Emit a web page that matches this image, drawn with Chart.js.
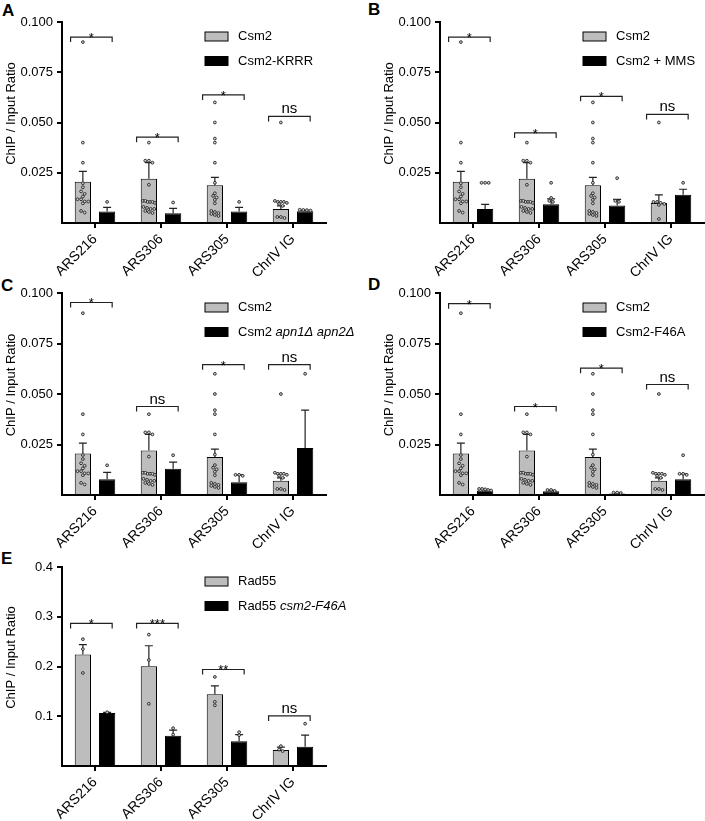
<!DOCTYPE html>
<html>
<head>
<meta charset="utf-8">
<script src="https://cdn.jsdelivr.net/npm/chart.js@4.4.0/dist/chart.umd.min.js"></script>
<style>
  body { margin: 0; background: #fff; width: 705px; height: 821px; position: relative; overflow: hidden; font-family: 'Liberation Sans', Arial, sans-serif; }
  canvas { position: absolute; }
  .lt { position: absolute; font-weight: bold; font-size: 17px; line-height: 17px; }
</style>
</head>
<body>
<div class="lt" style="left:2px;top:2px">A</div>
<div class="lt" style="left:368px;top:1px">B</div>
<div class="lt" style="left:1px;top:277px">C</div>
<div class="lt" style="left:368px;top:276px">D</div>
<div class="lt" style="left:1px;top:550px">E</div>
<canvas id="cA" width="370" height="290" style="left:0;top:0"></canvas>
<canvas id="cB" width="327" height="290" style="left:378px;top:0"></canvas>
<canvas id="cC" width="370" height="290" style="left:0;top:271px"></canvas>
<canvas id="cD" width="327" height="290" style="left:378px;top:271px"></canvas>
<canvas id="cE" width="370" height="290" style="left:0;top:545px"></canvas>
<script>
const categories = ['ARS216', 'ARS306', 'ARS305', 'ChrIV IG'];

// Csm2 (gray) - same control in A, C, D
const csm2Mean = [0.0205, 0.022, 0.0188, 0.007];
const csm2Sem = [0.0052, 0.008, 0.0039, 0.0015];
const csm2Points = [
  [0.09, 0.04, 0.03, 0.0198, 0.0178, 0.0157, 0.0145, 0.0132, 0.0118, 0.0118, 0.0107, 0.0107, 0.0098, 0.006, 0.0052],
  [0.04, 0.031, 0.030, 0.031, 0.019, 0.011, 0.0105, 0.0105, 0.010, 0.0105, 0.011, 0.008, 0.0075, 0.007, 0.007, 0.006, 0.0055, 0.005],
  [0.06, 0.05, 0.042, 0.04, 0.03, 0.02, 0.0148, 0.0135, 0.0127, 0.0115, 0.0098, 0.006, 0.0055, 0.005, 0.0045, 0.004, 0.0035],
  [0.05, 0.0105, 0.0105, 0.011, 0.01, 0.0095, 0.0105, 0.0085, 0.003, 0.0025, 0.003]
];
// Csm2 in B (ChrIV IG differs)
const csm2MeanB = [0.0205, 0.022, 0.0188, 0.010];
const csm2SemB = [0.0052, 0.008, 0.0039, 0.004];
const csm2PointsB = [csm2Points[0], csm2Points[1], csm2Points[2],
  [0.05, 0.0105, 0.0105, 0.01, 0.0095, 0.009, 0.002]];

// A: Csm2-KRRR
const krrrMean = [0.0057, 0.0048, 0.0057, 0.0058];
const krrrSem = [0.0021, 0.0025, 0.0021, 0.0005];
const krrrPoints = [[0.0105], [0.0102], [0.0105], [0.0066, 0.0064, 0.0062, 0.0065]];

// B: Csm2 + MMS
const mmsMean = [0.007, 0.0093, 0.0087, 0.014];
const mmsSem = [0.0023, 0.0027, 0.0031, 0.0028];
const mmsPoints = [[0.02, 0.02, 0.02], [0.02, 0.0125, 0.011, 0.0105], [0.0223, 0.011, 0.0105], [0.02]];

// C: Csm2 apn1 apn2
const apnMean = [0.0078, 0.013, 0.0063, 0.0233];
const apnSem = [0.0034, 0.0033, 0.0037, 0.0187];
const apnPoints = [[0.0147], [0.0197], [0.010, 0.010, 0.0095], [0.06]];

// D: Csm2-F46A
const f46aMean = [0.0022, 0.0018, 0.0008, 0.0078];
const f46aSem = [0.0005, 0.0005, 0.0003, 0.0027];
const f46aPoints = [[0.003, 0.0028, 0.0025, 0.003, 0.0022], [0.0025, 0.0025, 0.002], [0.0012, 0.0012, 0.001], [0.0197, 0.0105, 0.0105, 0.01]];

// E: Rad55
const rad55Mean = [0.224, 0.2007, 0.144, 0.032];
const rad55Sem = [0.020, 0.041, 0.017, 0.006];
const rad55Points = [[0.255, 0.235, 0.187], [0.264, 0.213, 0.125], [0.179, 0.129, 0.122], [0.04, 0.033, 0.03]];
const rad55f46aMean = [0.1067, 0.0607, 0.05, 0.0387];
const rad55f46aSem = [0.001, 0.0113, 0.013, 0.0233];
const rad55f46aPoints = [[0.108], [0.076, 0.063], [0.068, 0.062], [0.085]];

// significance brackets
const bracketA = [0.0925, 0.0427, 0.0637, 0.053];
const bracketB = [0.0925, 0.0448, 0.063, 0.054];
const bracketC = [0.0953, 0.0438, 0.0645, 0.0645];
const bracketD = [0.0947, 0.0438, 0.0628, 0.0547];
const bracketE = [0.2866, 0.2866, 0.194, 0.1006];
const sigA = ['*', '*', '*', 'ns'];
const sigB = ['*', '*', '*', 'ns'];
const sigC = ['*', 'ns', '*', 'ns'];
const sigD = ['*', '*', '*', 'ns'];
const sigE = ['*', '***', '**', 'ns'];

const FONT = "'Liberation Sans', Arial, sans-serif";

function swarm(vals, yScale) {
  const px = vals.map(v => yScale.getPixelForValue(v));
  const order = px.map((p, k) => k).sort((a, b) => px[a] - px[b]);
  const off = [];
  let group = [];
  const flush = () => {
    const n = group.length;
    const gap = n > 1 ? Math.min(3.6, 12 / (n - 1)) : 0;
    group.forEach((k, j) => off[k] = (j - (n - 1) / 2) * gap);
    group = [];
  };
  order.forEach(k => {
    if (group.length && px[k] - px[group[0]] > 2.5) flush();
    group.push(k);
  });
  flush();
  return px.map((p, k) => [off[k], p]);
}

const extras = {
  id: 'extras',
  afterDatasetsDraw(chart, args, o) {
    const ctx = chart.ctx, y = chart.scales.y, x = chart.scales.x, area = chart.chartArea;
    ctx.save();
    // error bars
    o.sem.forEach((s, d) => {
      chart.getDatasetMeta(d).data.forEach((bar, i) => {
        const top = y.getPixelForValue(o.mean[d][i] + s[i]);
        ctx.strokeStyle = '#222';
        ctx.lineWidth = 1.2;
        ctx.beginPath();
        ctx.moveTo(bar.x, bar.y);
        ctx.lineTo(bar.x, top);
        ctx.moveTo(bar.x - 4, top);
        ctx.lineTo(bar.x + 4, top);
        ctx.stroke();
      });
    });
    // individual points
    o.pts.forEach((series, d) => {
      const meta = chart.getDatasetMeta(d);
      series.forEach((vals, i) => {
        const cx = meta.data[i].x;
        swarm(vals, y).forEach(([dx, py]) => {
          ctx.beginPath();
          ctx.arc(cx + dx, py, 1.4, 0, Math.PI * 2);
          ctx.fillStyle = '#d0d0d0';
          ctx.fill();
          ctx.strokeStyle = '#222';
          ctx.lineWidth = 0.9;
          ctx.stroke();
        });
      });
    });
    // brackets
    const w = x.getPixelForValue(1) - x.getPixelForValue(0);
    o.brk.forEach((v, i) => {
      const c = x.getPixelForValue(i);
      const yy = y.getPixelForValue(v);
      const l = c - 0.37 * w, r = c + 0.26 * w;
      ctx.strokeStyle = '#222';
      ctx.lineWidth = 1.2;
      ctx.beginPath();
      ctx.moveTo(l, yy + 5);
      ctx.lineTo(l, yy);
      ctx.lineTo(r, yy);
      ctx.lineTo(r, yy + 5);
      ctx.stroke();
      const t = o.sig[i];
      ctx.fillStyle = '#000';
      ctx.textAlign = 'center';
      ctx.textBaseline = 'alphabetic';
      if (t === 'ns') {
        ctx.font = '15px ' + FONT;
        ctx.fillText(t, (l + r) / 2, yy - 3);
      } else {
        ctx.font = '13px ' + FONT;
        ctx.fillText(t, (l + r) / 2, yy + 5);
      }
    });
    // legend
    o.legend.forEach((segs, d) => {
      const ly = area.top + 14.5 + d * 24.5;
      const bx = area.left + 143;
      ctx.fillStyle = d === 0 ? '#bdbdbd' : '#000';
      ctx.fillRect(bx, ly - 4.5, 23, 9);
      ctx.strokeStyle = '#000';
      ctx.lineWidth = 1;
      ctx.strokeRect(bx, ly - 4.5, 23, 9);
      let tx = area.left + 176;
      ctx.textAlign = 'left';
      ctx.textBaseline = 'middle';
      ctx.fillStyle = '#000';
      segs.forEach(([txt, it]) => {
        ctx.font = (it ? 'italic ' : '') + '13px ' + FONT;
        ctx.fillText(txt, tx, ly);
        tx += ctx.measureText(txt).width;
      });
    });
    // y axis title
    ctx.translate(11.5, (area.top + area.bottom) / 2 - 9);
    ctx.rotate(-Math.PI / 2);
    ctx.font = '13px ' + FONT;
    ctx.textAlign = 'center';
    ctx.textBaseline = 'middle';
    ctx.fillStyle = '#000';
    ctx.fillText('ChIP / Input Ratio', 0, 0);
    ctx.restore();
  }
};

function makePanel(p) {
  const canvas = document.getElementById(p.id);
  const H = canvas.height;
  return new Chart(canvas, {
    type: 'bar',
    data: {
      labels: categories,
      datasets: [
        { data: p.mean[0], backgroundColor: '#bdbdbd', borderColor: '#000', borderWidth: 1, barPercentage: 0.67, categoryPercentage: 0.735 },
        { data: p.mean[1], backgroundColor: '#000', borderColor: '#000', borderWidth: 1, barPercentage: 0.67, categoryPercentage: 0.735 }
      ]
    },
    options: {
      responsive: false,
      animation: false,
      layout: { padding: { top: 22, right: p.padR, left: 0, bottom: 0 } },
      plugins: {
        legend: { display: false },
        tooltip: { enabled: false },
        extras: p
      },
      scales: {
        x: {
          offset: true,
          grid: { drawOnChartArea: false, drawTicks: true, tickLength: 5, offset: false, color: '#000', lineWidth: 2 },
          border: { display: true, color: '#000', width: 2 },
          ticks: { color: '#000', font: { size: 14, family: FONT }, maxRotation: 45, minRotation: 45, autoSkip: false, padding: 3 },
          afterFit: s => { s.height = H - 22 - p.plotH; }
        },
        y: {
          min: 0,
          max: p.max,
          ticks: { stepSize: p.step, color: '#000', font: { size: 13, family: FONT }, padding: 4,
            callback: v => v === 0 ? '' : v.toFixed(p.dec) },
          grid: { drawOnChartArea: false, tickLength: 5, lineWidth: 2,
            color: c => c.tick && c.tick.value === 0 ? 'rgba(0,0,0,0)' : '#000' },
          border: { color: '#000', width: 2 },
          afterFit: s => { s.width = 62; }
        }
      }
    },
    plugins: [extras]
  });
}

makePanel({ id: 'cA', padR: 44, plotH: 201, max: 0.1, step: 0.025, dec: 3,
  mean: [csm2Mean, krrrMean], sem: [csm2Sem, krrrSem], pts: [csm2Points, krrrPoints],
  brk: bracketA, sig: sigA, legend: [[['Csm2', false]], [['Csm2-KRRR', false]]] });
makePanel({ id: 'cB', padR: 1, plotH: 201, max: 0.1, step: 0.025, dec: 3,
  mean: [csm2MeanB, mmsMean], sem: [csm2SemB, mmsSem], pts: [csm2PointsB, mmsPoints],
  brk: bracketB, sig: sigB, legend: [[['Csm2', false]], [['Csm2 + MMS', false]]] });
makePanel({ id: 'cC', padR: 44, plotH: 202, max: 0.1, step: 0.025, dec: 3,
  mean: [csm2Mean, apnMean], sem: [csm2Sem, apnSem], pts: [csm2Points, apnPoints],
  brk: bracketC, sig: sigC, legend: [[['Csm2', false]], [['Csm2 ', false], ['apn1\u0394 apn2\u0394', true]]] });
makePanel({ id: 'cD', padR: 1, plotH: 202, max: 0.1, step: 0.025, dec: 3,
  mean: [csm2Mean, f46aMean], sem: [csm2Sem, f46aSem], pts: [csm2Points, f46aPoints],
  brk: bracketD, sig: sigD, legend: [[['Csm2', false]], [['Csm2-F46A', false]]] });
makePanel({ id: 'cE', padR: 44, plotH: 199, max: 0.4, step: 0.1, dec: 1,
  mean: [rad55Mean, rad55f46aMean], sem: [rad55Sem, rad55f46aSem], pts: [rad55Points, rad55f46aPoints],
  brk: bracketE, sig: sigE, legend: [[['Rad55', false]], [['Rad55 ', false], ['csm2-F46A', true]]] });
</script>
</body>
</html>
